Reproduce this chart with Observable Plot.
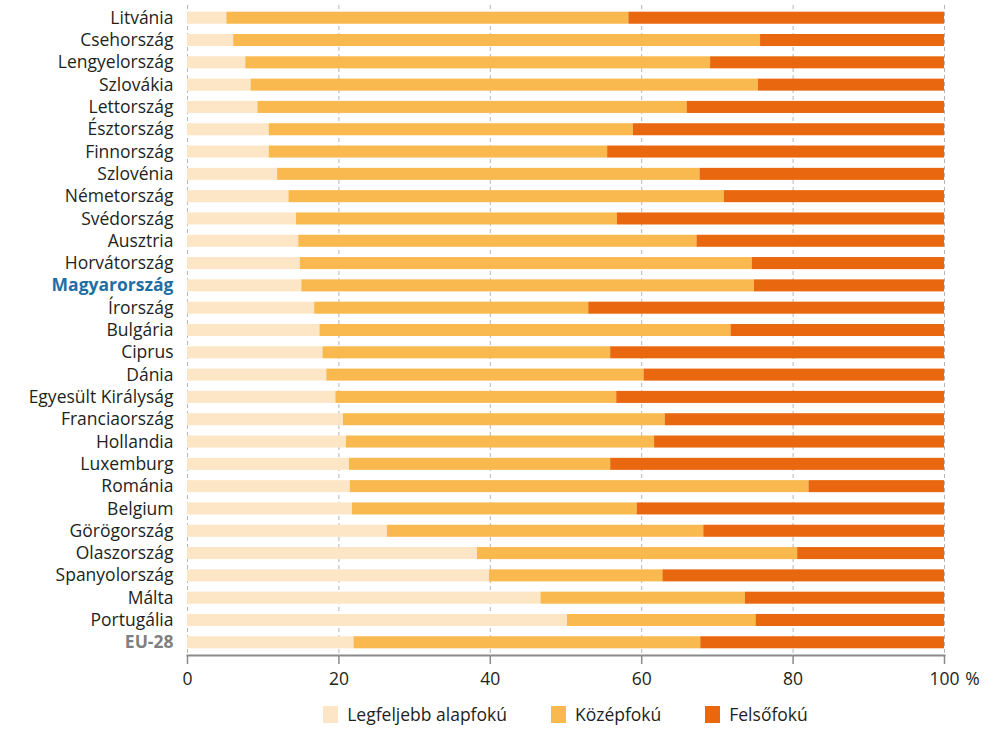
<!DOCTYPE html>
<html>
<head>
<meta charset="utf-8">
<script src="https://cdn.jsdelivr.net/npm/d3@7"></script>
<script src="https://cdn.jsdelivr.net/npm/@observablehq/plot@0.6"></script>
<style>
  body { margin: 0; background: #fff; font-family: "Open Sans", sans-serif; }
  #legend { display: flex; justify-content: center; padding-left: 187px; padding-right: 59px; margin-top: 12px; font-size: 17.5px; color: #231f20; }
  .item { display: flex; align-items: center; margin: 0 22px; }
  .sw { width: 15px; height: 17px; margin-right: 9px; }
</style>
</head>
<body>
<div id="chart"></div>
<div id="legend"></div>
<script>
const countries = ["Litvánia","Csehország","Lengyelország","Szlovákia","Lettország","Észtország","Finnország","Szlovénia","Németország","Svédország","Ausztria","Horvátország","Magyarország","Írország","Bulgária","Ciprus","Dánia","Egyesült Királyság","Franciaország","Hollandia","Luxemburg","Románia","Belgium","Görögország","Olaszország","Spanyolország","Málta","Portugália","EU-28"];
const alap  = [5.2, 6.1, 7.7, 8.4, 9.3, 10.8, 10.8, 11.9, 13.4, 14.4, 14.7, 14.9, 15.1, 16.8, 17.5, 17.9, 18.4, 19.6, 20.6, 21.0, 21.4, 21.5, 21.8, 26.4, 38.3, 39.9, 46.7, 50.2, 22.0];
const kozep = [53.1, 69.6, 61.4, 67.0, 56.7, 48.1, 44.7, 55.8, 57.5, 42.4, 52.6, 59.7, 59.8, 36.2, 54.3, 38.0, 41.9, 37.1, 42.5, 40.7, 34.5, 60.6, 37.6, 41.8, 42.3, 22.9, 27.0, 24.9, 45.8];
const felso = [41.7, 24.3, 30.9, 24.6, 34.0, 41.1, 44.5, 32.3, 29.1, 43.2, 32.7, 25.4, 25.1, 47.0, 28.2, 44.1, 39.7, 43.3, 36.9, 38.3, 44.1, 17.9, 40.6, 31.8, 19.4, 37.2, 26.3, 24.9, 32.2];
const levels = ["Legfeljebb alapfokú", "Középfokú", "Felsőfokú"];
const colors = ["#fde6c5", "#f9b94f", "#e9680f"];
const xTicks = [0, 20, 40, 60, 80, 100];

const data = countries.flatMap((c, i) => [
  {country: c, level: levels[0], value: alap[i]},
  {country: c, level: levels[1], value: kozep[i]},
  {country: c, level: levels[2], value: felso[i]}
]);

const plot = Plot.plot({
  width: 1003,
  height: 690,
  marginLeft: 187,
  marginRight: 59,
  marginTop: 5,
  marginBottom: 35,
  style: {fontFamily: "Open Sans, sans-serif", fontSize: "17.5px", color: "#231f20", background: "#fff"},
  x: {domain: [0, 100]},
  y: {domain: countries, paddingInner: 0.46, paddingOuter: 0.3, round: false},
  color: {domain: levels, range: colors},
  marks: [
    Plot.gridX(xTicks, {stroke: "#b5b5b5", strokeOpacity: 1, strokeDasharray: "4,3", strokeWidth: 1}),
    Plot.barX(data, Plot.stackX({y: "country", x: "value", fill: "level", order: levels})),
    Plot.frame({anchor: "bottom", stroke: "#8a8a8a", strokeWidth: 2}),
    Plot.axisX(xTicks, {tickSize: 9, tickPadding: 8, stroke: "#8a8a8a", strokeWidth: 1.5, label: null, fill: "#231f20", fontSize: 17.5}),
    Plot.text([100], {x: d => d, text: () => "%", frameAnchor: "bottom", lineAnchor: "top", dy: 17, dx: 28, fill: "#231f20", fontSize: 17.5}),
    Plot.axisY({tickSize: 0, tickPadding: 14, label: null, fill: "#231f20", fontSize: 17.5})
  ]
});

plot.querySelectorAll("text").forEach(t => {
  if (t.textContent === "Magyarország") { t.setAttribute("fill", "#1f6fa5"); t.style.fontWeight = "bold"; }
  if (t.textContent === "EU-28") { t.setAttribute("fill", "#7f7f7f"); t.style.fontWeight = "bold"; }
});
document.getElementById("chart").appendChild(plot);

const legend = document.getElementById("legend");
levels.forEach((l, i) => {
  const item = document.createElement("div");
  item.className = "item";
  const sw = document.createElement("span");
  sw.className = "sw";
  sw.style.background = colors[i];
  const tx = document.createElement("span");
  tx.textContent = l;
  item.appendChild(sw); item.appendChild(tx);
  legend.appendChild(item);
});
</script>
</body>
</html>
